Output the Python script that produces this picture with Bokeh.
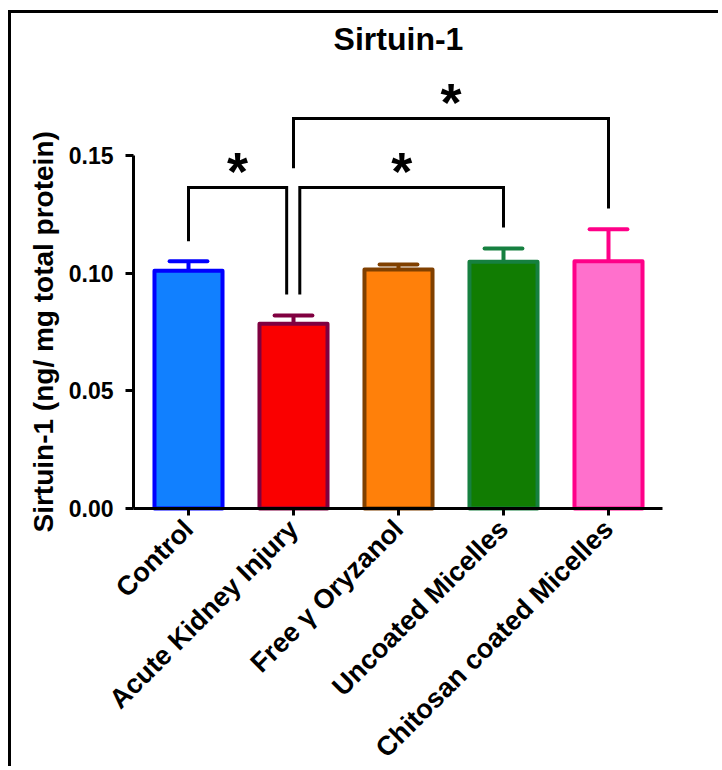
import math
from bokeh.plotting import figure
from bokeh.models import Range1d, FixedTicker, NumeralTickFormatter, ColumnDataSource
from bokeh.core.properties import value
from bokeh.embed import file_html
from bokeh.resources import INLINE

# ---------------- data ----------------
categories = ["Control", "Acute Kidney Injury", "Free γ Oryzanol",
              "Uncoated Micelles", "Chitosan coated Micelles"]
means = [0.1010, 0.0785, 0.1015, 0.1048, 0.1050]
errors = [0.0040, 0.0035, 0.0022, 0.0057, 0.0136]
fill_colors = ["#1180FF", "#FA0000", "#FF800A", "#117C02", "#FF70CC"]
line_colors = ["#0000FF", "#800040", "#804000", "#168040", "#FF0088"]
y_ticks = [0.00, 0.05, 0.10, 0.15]

# significance comparisons (category indices) and bracket heights
comp_left = [0, 1, 1]
comp_right = [1, 3, 4]
comp_top = [0.1364, 0.1364, 0.1657]
comp_left_end = [0.1135, 0.0909, 0.1445]
comp_right_end = [0.0909, 0.1194, 0.1275]
comp_label = ["*", "*", "*"]

chart_title = "Sirtuin-1"
y_label = "Sirtuin-1 (ng/ mg total protein)"

# ---------------- styling constants ----------------
FONT = "Liberation Sans"
BAR_WIDTH = 0.648
CAP_HALF = 0.18
left_nudge = [0.0, 0.06, 0.0]
right_nudge = [-0.065, 0.0, 0.0]

# axis placement (in data units of the full-canvas frame)
X_START, X_END = -1.6857, 5.0762
Y_START, Y_END = -0.1109, 0.2103
YAXIS_AT = -0.5238
XAXIS_END = 4.5143

W, H = 710, 756
p = figure(width=W, height=H, output_backend="svg", toolbar_location=None,
           title_location=None,
           x_range=Range1d(X_START, X_END), y_range=Range1d(Y_START, Y_END),
           min_border_left=0, min_border_right=0,
           min_border_top=0, min_border_bottom=0)
p.styles = {"border-left": "3px solid black", "border-top": "3px solid black",
            "margin-left": "8px", "margin-top": "10px"}
p.outline_line_color = None
p.xgrid.visible = False
p.ygrid.visible = False
p.background_fill_color = "white"
p.border_fill_color = "white"

idx = list(range(len(categories)))
src = ColumnDataSource(dict(
    x=idx, top=means, fill=fill_colors, line=line_colors,
    up=[m + e for m, e in zip(means, errors)],
    cl=[i - CAP_HALF for i in idx], cr=[i + CAP_HALF for i in idx],
))

p.vbar(x="x", top="top", bottom=0, width=BAR_WIDTH, source=src,
       fill_color="fill", line_color="line", line_width=4, line_join="round")
p.segment(x0="x", y0="top", x1="x", y1="up", source=src,
          line_color="line", line_width=4)
p.segment(x0="cl", y0="up", x1="cr", y1="up", source=src,
          line_color="line", line_width=4, line_cap="round")

# significance brackets
bx, by, sx, sy = [], [], [], []
for l, r, t, le, re_, ln, rn in zip(comp_left, comp_right, comp_top,
                                     comp_left_end, comp_right_end,
                                     left_nudge, right_nudge):
    xl, xr = l + ln, r + rn
    bx.append([xl, xl, xr, xr])
    by.append([le, t, t, re_])
    sx.append((xl + xr) / 2)
    sy.append(t)
p.multi_line(xs=bx, ys=by, line_color="black", line_width=3, line_join="miter")
p.text(x=sx, y=sy, text=comp_label, text_align="center",
       text_baseline="alphabetic", y_offset=-16,
       text_font=value(FONT), text_font_style="bold",
       text_font_size="54px", text_color="black")

# chart title
p.text(x=[(len(categories) - 1) / 2], y=[0.1993], text=[chart_title],
       text_align="center", text_baseline="alphabetic",
       text_font=value(FONT), text_font_style="bold",
       text_font_size="32px", text_color="black")

# y axis title (rotated)
p.text(x=[-1.3810], y=[-0.0102], text=[y_label], angle=math.pi / 2,
       text_align="left", text_baseline="middle",
       text_font=value(FONT), text_font_style="bold",
       text_font_size="28px", text_color="black")

# y axis
ya = p.yaxis[0]
ya.fixed_location = YAXIS_AT
ya.bounds = (0, 0.15)
ya.ticker = FixedTicker(ticks=y_ticks)
ya.formatter = NumeralTickFormatter(format="0.00")
ya.axis_line_width = 3
ya.axis_line_color = "black"
ya.major_tick_line_width = 3
ya.major_tick_out = 8
ya.major_tick_in = 0
ya.minor_tick_out = 0
ya.minor_tick_in = 0
ya.major_label_standoff = 12
ya.major_label_text_font = FONT
ya.major_label_text_font_style = "bold"
ya.major_label_text_font_size = "23px"
ya.major_label_text_color = "black"

# x axis (drawn at y = 0 inside the frame)
xa = p.xaxis[0]
xa.fixed_location = 0
xa.bounds = (YAXIS_AT, XAXIS_END)
xa.ticker = FixedTicker(ticks=idx)
xa.major_label_overrides = {i: c for i, c in enumerate(categories)}
xa.major_label_orientation = math.pi / 4
xa.axis_line_width = 3
xa.axis_line_color = "black"
xa.major_tick_line_width = 3
xa.major_tick_out = 7
xa.major_tick_in = 0
xa.minor_tick_out = 0
xa.minor_tick_in = 0
xa.major_label_standoff = 9
xa.major_label_text_font = FONT
xa.major_label_text_font_style = "bold"
xa.major_label_text_font_size = "27px"
xa.major_label_text_color = "black"

open("out.html", "w").write(file_html(p, INLINE))
